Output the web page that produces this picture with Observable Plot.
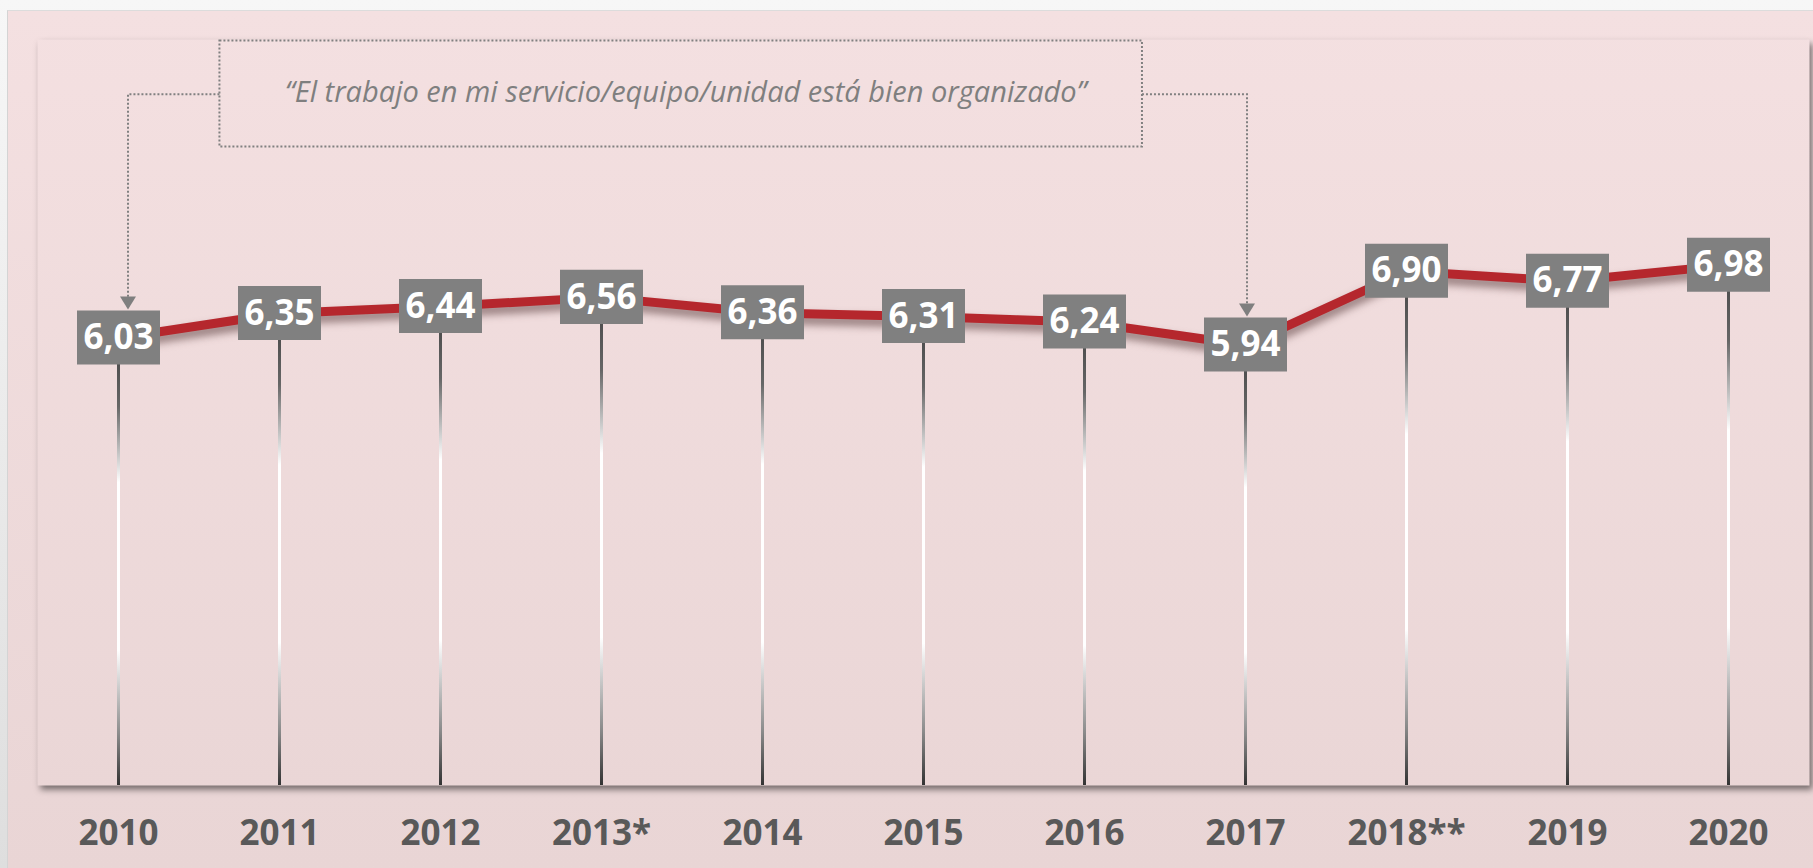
<!DOCTYPE html>
<html><head><meta charset="utf-8">
<script src="https://cdn.jsdelivr.net/npm/d3@7"></script>
<script src="https://cdn.jsdelivr.net/npm/@observablehq/plot@0.6"></script>
<style>
html,body{margin:0;padding:0;}
body{background:linear-gradient(#f7f7f7,#dedede);width:1813px;height:868px;overflow:hidden;}
#wrap{position:relative;width:1813px;height:868px;}
#panel{position:absolute;left:7px;top:10px;width:1806px;height:858px;background:linear-gradient(#f4e0e1,#e9d5d5);border-left:1px solid #d4d4d4;border-top:1px solid #dcdcdc;box-sizing:border-box;}
#chart{position:absolute;left:0;top:0;}
[aria-label="line"] path{filter:drop-shadow(0px 6px 4px rgba(60,30,30,0.55));}
[aria-label="frame"]{filter:drop-shadow(3px 4px 3px rgba(0,0,0,0.5));}
</style>
</head><body>
<div id="wrap"><div id="panel"></div><div id="chart"></div></div>
<script>
// ---- data ----
const years = ["2010","2011","2012","2013*","2014","2015","2016","2017","2018**","2019","2020"];
const values = [6.03, 6.35, 6.44, 6.56, 6.36, 6.31, 6.24, 5.94, 6.90, 6.77, 6.98];
const quote = "\u201CEl trabajo en mi servicio/equipo/unidad est\u00E1 bien organizado\u201D";
const annotationFrom = "2010";
const annotationTo = "2017";
const yDomain = [0.2, 9.92];

// ---- build ----
const fmt = v => d3.format(".2f")(v).replace(".", ",");
const data = years.map((year, i) => ({year, value: values[i], label: fmt(values[i])}));
const base = yDomain[0];
const halfBox = 0.352;

const plot = Plot.plot({
  width: 1813, height: 868,
  marginLeft: 37, marginRight: 4, marginTop: 39, marginBottom: 83,
  style: {background: "transparent", fontFamily: "'Open Sans', sans-serif", overflow: "visible"},
  x: {type: "point", domain: years, padding: 0.5, label: null},
  y: {domain: yDomain, axis: null},
  marks: [
    Plot.frame({fill: "url(#panelGrad)", stroke: "none"}),
    Plot.ruleX(data, {x: "year", y1: base, y2: "value", stroke: (d, i) => `url(#drop${i})`, strokeWidth: 3}),
    Plot.line(data, {x: "year", y: "value", stroke: "#b5272d", strokeWidth: 9}),
    Plot.ruleX(data, {x: "year", y1: d => d.value - halfBox, y2: d => d.value + halfBox, stroke: "#808080", strokeWidth: 83}),
    Plot.text(data, {x: "year", y: "value", text: "label", fill: "white", fontSize: 35, fontWeight: "bold"}),
    Plot.axisX({tickSize: 0, tickPadding: 35, fontSize: 35, fontWeight: "bold", fill: "#595959", label: null})
  ]
});

const xs = plot.scale("x"), ys = plot.scale("y");
const svg = d3.select(plot);
const defs = svg.insert("defs", ":first-child");
const pg = defs.append("linearGradient").attr("id", "panelGrad").attr("gradientUnits", "userSpaceOnUse")
  .attr("x1", 0).attr("x2", 0).attr("y1", 10).attr("y2", 868);
pg.append("stop").attr("offset", 0).attr("stop-color", "#f4e0e1");
pg.append("stop").attr("offset", 1).attr("stop-color", "#e9d5d5");
const boxHalfPx = ys.apply(0) - ys.apply(halfBox);
data.forEach((d, i) => {
  const g = defs.append("linearGradient").attr("id", `drop${i}`).attr("gradientUnits", "userSpaceOnUse")
    .attr("x1", 0).attr("x2", 0).attr("y1", ys.apply(d.value) + boxHalfPx).attr("y2", ys.apply(base));
  [[0, "#505050"], [0.1, "#666"], [0.28, "#ffffff"], [0.68, "#ffffff"], [0.88, "#8a8a8a"], [1, "#333"]]
    .forEach(([o, c]) => g.append("stop").attr("offset", o).attr("stop-color", c));
});

// ---- annotation ----
const step = xs.step;
const boxLeft = xs.apply(annotationFrom) + 0.63 * step;
const boxRight = xs.apply(annotationTo) - 0.64 * step;
const boxTop = ys.apply(9.9), boxBottom = ys.apply(8.52), linkY = ys.apply(9.2);
const ann = svg.append("g").attr("aria-label", "annotation");
const dot = {stroke: "#808080", "stroke-width": 2, "stroke-dasharray": "2 2", fill: "none"};
const rect = ann.append("rect").attr("x", boxLeft).attr("y", boxTop).attr("width", boxRight - boxLeft).attr("height", boxBottom - boxTop);
Object.entries(dot).forEach(([k, v]) => rect.attr(k, v));
ann.append("text").attr("x", (boxLeft + boxRight) / 2 + 5).attr("y", (boxTop + boxBottom) / 2 + 9)
  .attr("text-anchor", "middle").attr("font-style", "italic").attr("font-size", 29).attr("fill", "#7f7f7f")
  .text(quote);
function link(fromX, cat, off, val) {
  const ax = xs.apply(cat) + off;
  const tip = ys.apply(val) - boxHalfPx - 1;
  const p = ann.append("path").attr("d", `M${fromX},${linkY}H${ax}V${tip - 12}`);
  Object.entries(dot).forEach(([k, v]) => p.attr(k, v));
  ann.append("path").attr("d", `M${ax - 8},${tip - 13}L${ax + 8},${tip - 13}L${ax},${tip}Z`).attr("fill", "#7f7f7f");
}
link(boxLeft, annotationFrom, 10, values[years.indexOf(annotationFrom)]);
link(boxRight, annotationTo, 2, values[years.indexOf(annotationTo)]);

document.getElementById("chart").appendChild(plot);
</script>
</body></html>
